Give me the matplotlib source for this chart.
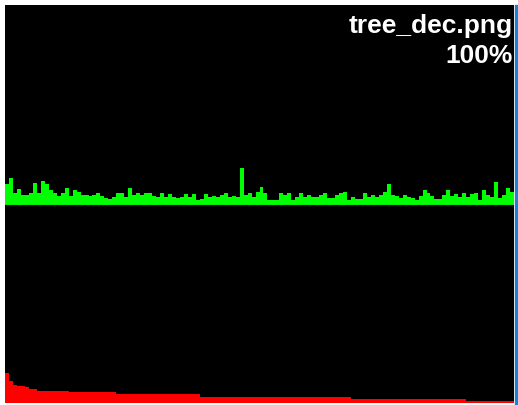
import numpy as np
import matplotlib
matplotlib.use("Agg")
import matplotlib.pyplot as plt
from matplotlib.patches import Rectangle

W, H = 518, 405

fname = "tree_dec.png"
ratio = "100%"

# green histogram (bar heights, px units above the middle line)
green = [20.7, 26.7, 12.3, 15.7, 10, 10, 12.3, 21.7, 11.7, 24.3,
         20.7, 15, 11.7, 9, 11.7, 16.7, 9, 15, 13.3, 10,
         10, 9, 10, 12.3, 9, 6.7, 5.7, 8.3, 11.7, 11.7,
         8.3, 16.7, 10, 12.3, 10, 12.3, 12.3, 9, 8.3, 11.7,
         8.3, 10.7, 7.7, 6.7, 8.3, 10.7, 8.3, 10.7, 5.3, 5.7,
         10.7, 8.3, 9, 8.3, 10, 11.7, 8.3, 9, 8.3, 36.7,
         10, 11.7, 8.3, 13.3, 18.3, 12.3, 5.3, 5.3, 5.3, 11.7,
         10, 11.7, 5.3, 8.3, 12.3, 8.3, 10, 8.3, 8.3, 10,
         12.3, 6.7, 6.7, 10, 11.7, 13.3, 5.3, 8.3, 5.7, 5.7,
         12.3, 8.3, 10, 8.3, 10, 13.3, 20.7, 10, 9, 6.7,
         10, 8.3, 6.7, 5.3, 9, 15, 11.7, 9, 5.7, 5.7,
         10, 15, 9, 10.7, 8.3, 12.3, 8.3, 10.7, 12.3, 5.3,
         15, 10, 8.3, 22.7, 6.7, 10, 16.7, 13.3]

# red histogram, sorted descending
red = ([30, 22, 18, 17, 17, 16, 14, 14] + [12] * 8 + [11] * 12 +
       [9] * 21 + [6] * 38 + [4] * 29 + [2] * 12)

fig = plt.figure(figsize=(W / 100, H / 100), dpi=100)
fig.patch.set_facecolor("white")

left = 5 / W
width = 509 / W
ax_top = fig.add_axes([left, (H - 205) / H, width, 200 / H])
ax_bot = fig.add_axes([left, (H - 403) / H, width, 198 / H])

for ax in (ax_top, ax_bot):
    ax.set_facecolor("black")
    ax.set_xticks([])
    ax.set_yticks([])
    for s in ax.spines.values():
        s.set_visible(False)

x = np.arange(len(green))
ax_top.bar(x, green, width=1.0, align="edge", color="#00ff00", linewidth=0)
ax_top.axhline(0.5, color="#00b000", lw=1)
ax_top.set_xlim(0, len(green))
ax_top.set_ylim(0, 200)

xr = np.arange(len(red))
ax_bot.bar(xr, red, width=1.0, align="edge", color="#ff0000", linewidth=0)
ax_bot.set_xlim(0, len(red))
ax_bot.set_ylim(0, 198)

# window edge on the right
fig.patches.append(Rectangle((515 / W, 0), 2 / W, (H - 5) / H,
                             transform=fig.transFigure, color="#1f7fd0"))

fig.text(513 / W, (H - 33) / H, fname, ha="right", va="baseline",
         color="white", fontsize=19, weight="bold", family="Liberation Sans")
fig.text(513 / W, (H - 63) / H, ratio, ha="right", va="baseline",
         color="white", fontsize=19, weight="bold", family="Liberation Sans")

fig.savefig("out.png", dpi=100, facecolor=fig.get_facecolor())
